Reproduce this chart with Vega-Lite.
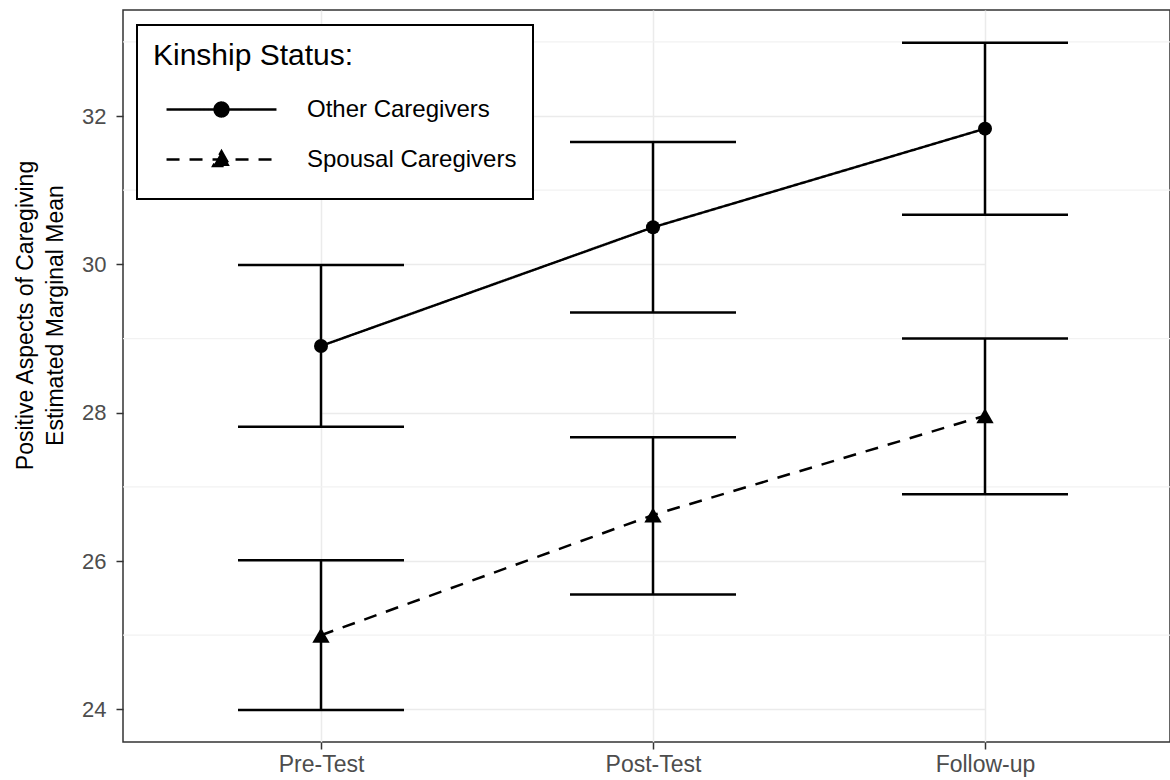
{
  "$schema": "https://vega.github.io/schema/vega-lite/v6.json",
  "width": 1047,
  "height": 732,
  "autosize": {"type": "none"},
  "padding": {"left": 123, "top": 10, "right": 0, "bottom": 38},
  "background": "white",
  "config": {
    "font": "Liberation Sans",
    "view": {"stroke": "#333333", "strokeWidth": 1.5},
    "axisY": {
      "titleFontSize": 23, "titleFontWeight": "normal", "titleColor": "black",
      "titleAngle": -90, "titleX": -109, "titleY": 305, "titleAlign": "center", "titleBaseline": "top", "titleLineHeight": 30,
      "labelFontSize": 22, "labelColor": "#4D4D4D", "labelPadding": 10,
      "tickColor": "#333333", "tickWidth": 1.5, "tickSize": 7,
      "domain": false,
      "grid": true, "gridColor": "#EBEBEB", "gridWidth": 1.5
    }
  },
  "datasets": {
    "means": [
      {"time": "Pre-Test", "group": "Other Caregivers", "mean": 28.9, "lower": 27.81, "upper": 29.99},
      {"time": "Post-Test", "group": "Other Caregivers", "mean": 30.5, "lower": 29.35, "upper": 31.65},
      {"time": "Follow-up", "group": "Other Caregivers", "mean": 31.83, "lower": 30.67, "upper": 32.99},
      {"time": "Pre-Test", "group": "Spousal Caregivers", "mean": 25.0, "lower": 23.99, "upper": 26.01},
      {"time": "Post-Test", "group": "Spousal Caregivers", "mean": 26.62, "lower": 25.55, "upper": 27.67},
      {"time": "Follow-up", "group": "Spousal Caregivers", "mean": 27.96, "lower": 26.9, "upper": 29.0}
    ],
    "minor": [{"v": 25}, {"v": 27}, {"v": 29}, {"v": 31}, {"v": 33}]
  },
  "layer": [
    {
      "data": {"name": "minor"},
      "mark": {"type": "rule", "color": "#F2F2F2", "strokeWidth": 1.2},
      "encoding": {
        "y": {
          "field": "v", "type": "quantitative",
          "scale": {"domain": [23.56, 33.43], "nice": false, "zero": false},
          "title": ["Positive Aspects of Caregiving", "Estimated Marginal Mean"],
          "axis": {"values": [24, 26, 28, 30, 32], "labelFontSize": 22, "labelPadding": 10}
        }
      }
    },
    {
      "data": {"name": "means"},
      "encoding": {
        "x": {
          "field": "time", "type": "ordinal",
          "sort": ["Pre-Test", "Post-Test", "Follow-up"],
          "scale": {"type": "point", "range": [198, 862], "padding": 0},
          "axis": {
            "title": null, "labelAngle": 0,
            "labelFontSize": 23, "labelColor": "#4D4D4D", "labelPadding": 4,
            "tickColor": "#333333", "tickWidth": 1.5, "tickSize": 7,
            "domain": false,
            "grid": true, "gridColor": "#EBEBEB", "gridWidth": 1.5
          }
        }
      },
      "layer": [
        {
          "mark": {"type": "rule", "color": "black", "strokeWidth": 2.5},
          "encoding": {
            "y": {"field": "lower", "type": "quantitative", "scale": {"domain": [23.56, 33.43], "nice": false, "zero": false}, "title": ["Positive Aspects of Caregiving", "Estimated Marginal Mean"], "axis": {"values": [24, 26, 28, 30, 32], "labelFontSize": 22, "labelPadding": 10}},
            "y2": {"field": "upper"}
          }
        },
        {
          "mark": {"type": "tick", "color": "black", "size": 166, "thickness": 2.5, "opacity": 1},
          "encoding": {
            "y": {"field": "lower", "type": "quantitative", "scale": {"domain": [23.56, 33.43], "nice": false, "zero": false}, "title": ["Positive Aspects of Caregiving", "Estimated Marginal Mean"], "axis": {"values": [24, 26, 28, 30, 32], "labelFontSize": 22, "labelPadding": 10}}
          }
        },
        {
          "mark": {"type": "tick", "color": "black", "size": 166, "thickness": 2.5, "opacity": 1},
          "encoding": {
            "y": {"field": "upper", "type": "quantitative", "scale": {"domain": [23.56, 33.43], "nice": false, "zero": false}, "title": ["Positive Aspects of Caregiving", "Estimated Marginal Mean"], "axis": {"values": [24, 26, 28, 30, 32], "labelFontSize": 22, "labelPadding": 10}}
          }
        },
        {
          "mark": {"type": "line", "color": "black", "strokeWidth": 2.5},
          "encoding": {
            "y": {"field": "mean", "type": "quantitative", "scale": {"domain": [23.56, 33.43], "nice": false, "zero": false}, "title": ["Positive Aspects of Caregiving", "Estimated Marginal Mean"], "axis": {"values": [24, 26, 28, 30, 32], "labelFontSize": 22, "labelPadding": 10}},
            "strokeDash": {
              "field": "group", "type": "nominal",
              "scale": {"domain": ["Other Caregivers", "Spousal Caregivers"], "range": [[1, 0], [13, 10]]},
              "legend": {
                "title": "Kinship Status:",
                "orient": "none", "legendX": 14, "legendY": 15,
                "padding": 16, "strokeColor": "black", "fillColor": "white",
                "titleFontSize": 30, "titleFontWeight": "normal", "titleColor": "black", "titlePadding": 14, "titleLimit": 1000,
                "labelFontSize": 24, "labelColor": "black", "labelOffset": 61, "labelLimit": 1000,
                "symbolSize": 2116, "symbolOffset": 44, "symbolStrokeWidth": 2.5, "symbolStrokeColor": "black",
                "rowPadding": 2,
                "encoding": {
                  "symbols": {
                    "shape": {
                      "condition": {"test": "datum.value === 'Other Caregivers'", "value": "M0,-0.8L0,-0.8M0,0.8L0,0.8M-2.39,0H2.39M0.3,0A0.3,0.3,0,1,1,-0.3,0A0.3,0.3,0,1,1,0.3,0Z"},
                      "value": "M0,-0.8L0,-0.8M0,0.8L0,0.8M-2.39,0H2.39M0,-0.36L0.36,0.28L-0.36,0.28Z"
                    },
                    "fill": {"value": "black"},
                    "stroke": {"value": "black"},
                    "strokeWidth": {"value": 2.5}
                  },
                  "legend": {"strokeWidth": {"value": 2}}
                }
              }
            }
          }
        },
        {
          "transform": [{"filter": "datum.group === 'Other Caregivers'"}],
          "mark": {"type": "point", "filled": true, "color": "black", "opacity": 1, "shape": "circle", "size": 196},
          "encoding": {
            "y": {"field": "mean", "type": "quantitative", "scale": {"domain": [23.56, 33.43], "nice": false, "zero": false}, "title": ["Positive Aspects of Caregiving", "Estimated Marginal Mean"], "axis": {"values": [24, 26, 28, 30, 32], "labelFontSize": 22, "labelPadding": 10}}
          }
        },
        {
          "transform": [{"filter": "datum.group === 'Spousal Caregivers'"}],
          "mark": {"type": "point", "filled": true, "color": "black", "opacity": 1, "shape": "triangle-up", "size": 300},
          "encoding": {
            "y": {"field": "mean", "type": "quantitative", "scale": {"domain": [23.56, 33.43], "nice": false, "zero": false}, "title": ["Positive Aspects of Caregiving", "Estimated Marginal Mean"], "axis": {"values": [24, 26, 28, 30, 32], "labelFontSize": 22, "labelPadding": 10}}
          }
        }
      ]
    }
  ]
}
